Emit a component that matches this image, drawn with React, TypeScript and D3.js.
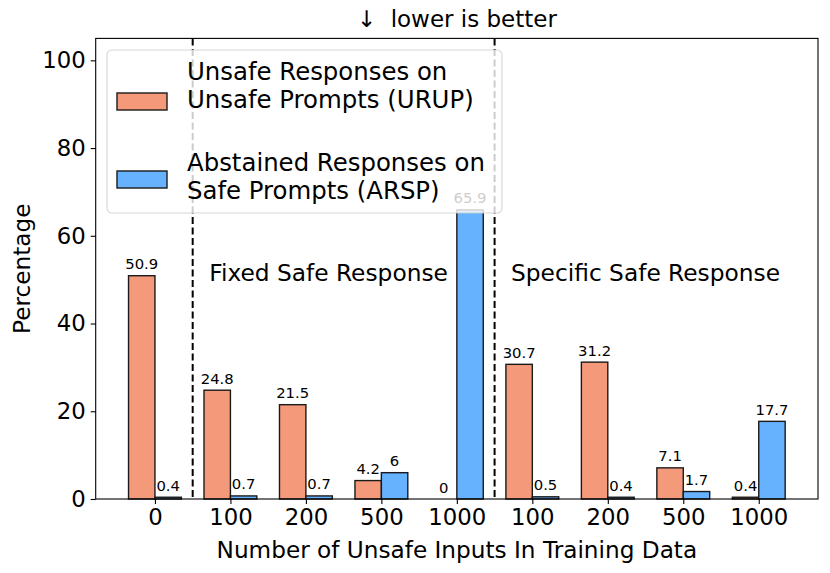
import React, { useEffect, useRef } from 'react';
import * as d3 from 'd3';

const categories = ['0', '100', '200', '500', '1000', '100', '200', '500', '1000'];
const urup = [50.9, 24.8, 21.5, 4.2, 0, 30.7, 31.2, 7.1, 0.4];
const arsp = [0.4, 0.7, 0.7, 6, 65.9, 0.5, 0.4, 1.7, 17.7];
const yTicks = [0, 20, 40, 60, 80, 100];
const dividers = [0.5, 4.5];
const regions = [
  { label: 'Fixed Safe Response', at: 2.3 },
  { label: 'Specific Safe Response', at: 6.5 },
];
const legendItems = [
  { lines: ['Unsafe Responses on', 'Unsafe Prompts (URUP)'], color: '#f4997a' },
  { lines: ['Abstained Responses on', 'Safe Prompts (ARSP)'], color: '#66b2ff' },
];

const FONT = 'DejaVu Sans, sans-serif';

const App = () => {
  const ref = useRef<SVGSVGElement>(null);

  useEffect(() => {
    const svg = d3.select(ref.current);
    svg.selectAll('*').remove();

    const width = 830;
    const height = 573;
    const margin = { top: 38.4, right: 12, bottom: 74, left: 95.7 };
    const barW = 0.35;

    svg.attr('width', width).attr('height', height);

    const x = d3.scaleLinear()
      .domain([-0.785, categories.length - 1 + 0.785])
      .range([margin.left, width - margin.right]);
    const y = d3.scaleLinear()
      .domain([0, 105])
      .range([height - margin.bottom, margin.top]);
    const bw = x(barW) - x(0);

    const g = svg.append('g');

    // dashed dividers
    g.selectAll('line.div')
      .data(dividers)
      .enter()
      .append('line')
      .attr('x1', d => x(d)).attr('x2', d => x(d))
      .attr('y1', y(105)).attr('y2', y(0))
      .attr('stroke', '#000')
      .attr('stroke-width', 2)
      .attr('stroke-dasharray', '7,3.5');

    // bars
    const series = [
      { vals: urup, color: '#f4997a', off: -barW },
      { vals: arsp, color: '#66b2ff', off: 0 },
    ];
    series.forEach(s => {
      g.selectAll(null)
        .data(s.vals)
        .enter()
        .append('rect')
        .attr('x', (d, i) => x(i + s.off))
        .attr('y', d => y(d))
        .attr('width', bw)
        .attr('height', d => y(0) - y(d))
        .attr('fill', s.color)
        .attr('stroke', '#1a1a1a')
        .attr('stroke-width', 1.4);

      g.selectAll(null)
        .data(s.vals)
        .enter()
        .append('text')
        .attr('x', (d, i) => x(i + s.off) + bw / 2)
        .attr('y', d => y(d) - 6.5)
        .attr('text-anchor', 'middle')
        .attr('font-family', FONT)
        .attr('font-size', '14.8px')
        .text(d => String(d));
    });

    // region labels
    g.selectAll(null)
      .data(regions)
      .enter()
      .append('text')
      .attr('x', d => x(d.at))
      .attr('y', y(49.6))
      .attr('text-anchor', 'middle')
      .attr('font-family', FONT)
      .attr('font-size', '23.3px')
      .text(d => d.label);

    // axes frame
    g.append('rect')
      .attr('x', x.range()[0]).attr('y', y(105))
      .attr('width', x.range()[1] - x.range()[0])
      .attr('height', y(0) - y(105))
      .attr('fill', 'none')
      .attr('stroke', '#000')
      .attr('stroke-width', 1.1);

    const xAxis = g.append('g')
      .attr('transform', `translate(0, ${y(0)})`)
      .call(d3.axisBottom(x).tickValues(d3.range(categories.length)).tickFormat((d, i) => categories[i]).tickSize(5).tickPadding(5));
    const yAxis = g.append('g')
      .attr('transform', `translate(${x.range()[0]}, 0)`)
      .call(d3.axisLeft(y).tickValues(yTicks).tickSize(5).tickPadding(5));

    [xAxis, yAxis].forEach(a => {
      a.select('.domain').remove();
      a.selectAll('line').attr('stroke', '#000').attr('stroke-width', 1.1);
      a.selectAll('text')
        .attr('font-family', FONT)
        .attr('font-size', '22.8px')
        .attr('fill', '#000');
    });

    // axis titles
    svg.append('text')
      .attr('x', (x.range()[0] + x.range()[1]) / 2)
      .attr('y', 558)
      .attr('text-anchor', 'middle')
      .attr('font-family', FONT)
      .attr('font-size', '23.2px')
      .text('Number of Unsafe Inputs In Training Data');

    svg.append('text')
      .attr('transform', 'rotate(-90)')
      .attr('x', -(y(0) + y(105)) / 2)
      .attr('y', 30)
      .attr('text-anchor', 'middle')
      .attr('font-family', FONT)
      .attr('font-size', '23.2px')
      .text('Percentage');

    svg.append('text')
      .attr('x', (x.range()[0] + x.range()[1]) / 2)
      .attr('y', 27)
      .attr('text-anchor', 'middle')
      .attr('font-family', FONT)
      .attr('font-size', '23px')
      .style('white-space', 'pre')
      .text('\u2193  lower is better');

    // legend (semi-transparent, drawn on top)
    const lg = svg.append('g').attr('transform', 'translate(107, 50)');
    lg.append('rect')
      .attr('width', 395).attr('height', 163)
      .attr('rx', 5)
      .attr('fill', 'rgba(255,255,255,0.8)')
      .attr('stroke', 'rgba(204,204,204,0.8)')
      .attr('stroke-width', 1.1);

    const patchY = [43, 121];
    const textY = [30, 121];
    legendItems.forEach((item, i) => {
      lg.append('rect')
        .attr('x', 10).attr('y', patchY[i])
        .attr('width', 50).attr('height', 17)
        .attr('fill', item.color)
        .attr('stroke', '#1a1a1a')
        .attr('stroke-width', 1.4);
      item.lines.forEach((ln, j) => {
        lg.append('text')
          .attr('x', 80)
          .attr('y', textY[i] + j * 28)
          .attr('font-family', FONT)
          .attr('font-size', '24.4px')
          .text(ln);
      });
    });
  }, []);

  return <svg ref={ref} style={{ position: 'absolute', left: 0, top: 0, display: 'block' }}></svg>;
};

export default App;
